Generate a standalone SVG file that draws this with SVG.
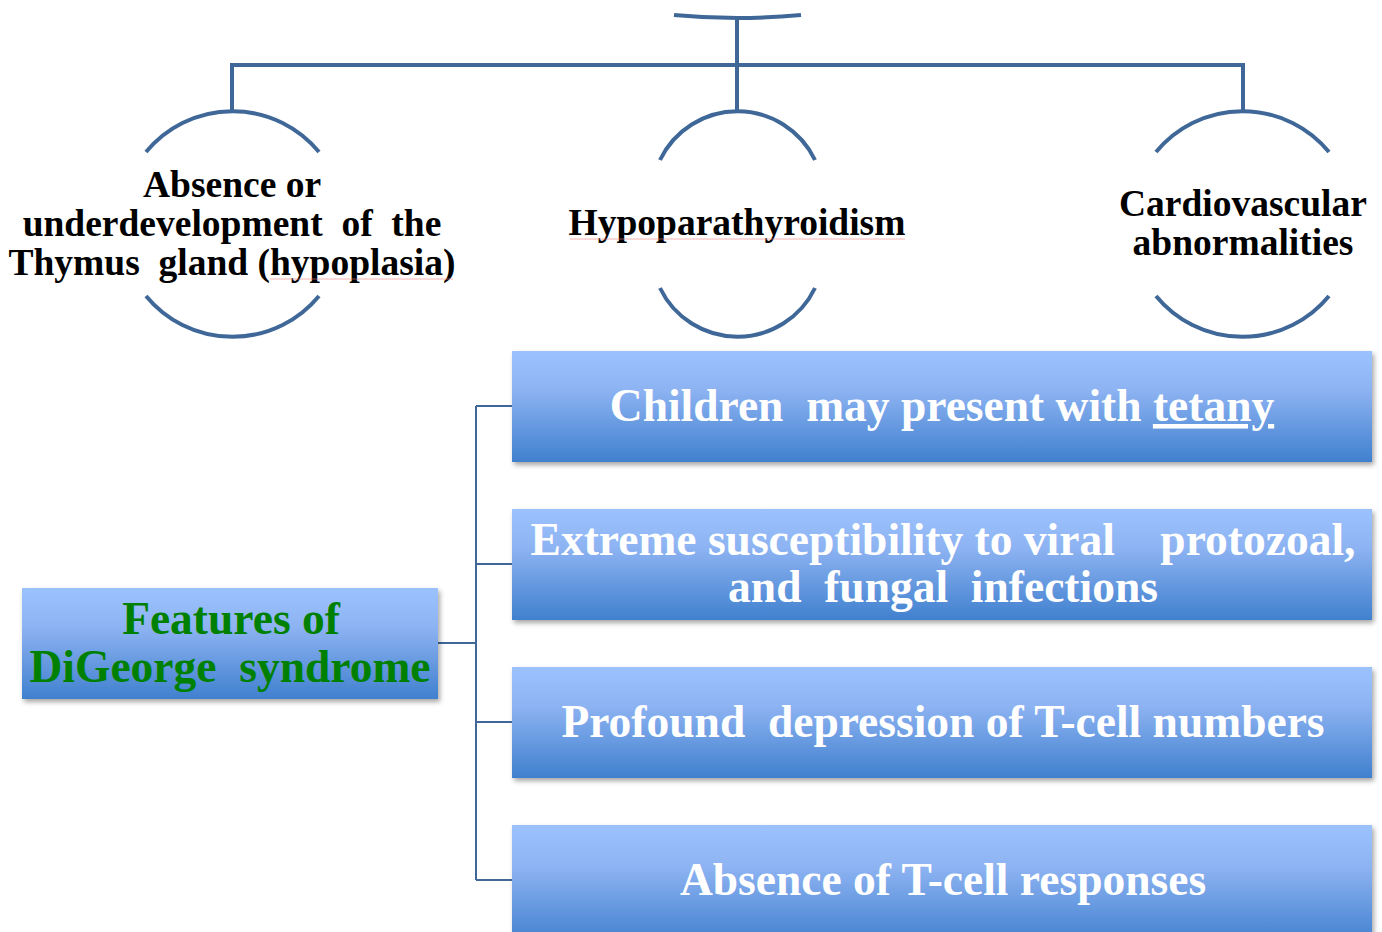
<svg xmlns="http://www.w3.org/2000/svg" width="1382" height="932" viewBox="0 0 1382 932">
<defs>
<linearGradient id="g" x1="0" y1="0" x2="0" y2="1">
<stop offset="0" stop-color="#9CC2FE"/>
<stop offset="0.35" stop-color="#8DB3F2"/>
<stop offset="1" stop-color="#4080CE"/>
</linearGradient>
<filter id="sh" x="-5%" y="-10%" width="115%" height="130%">
<feDropShadow dx="2" dy="3" stdDeviation="2.5" flood-color="#000" flood-opacity="0.35"/>
</filter>
</defs>
<style>
.arc{fill:none;stroke:#3F6899;stroke-width:4}
.con{fill:none;stroke:#3F6899;stroke-width:2}
.bx{fill:url(#g);filter:url(#sh)}
.t{font-family:"Liberation Serif","Times New Roman",serif;font-weight:bold;text-anchor:middle}
.blk{fill:#000;font-size:37.5px}
.wh{fill:#fff;font-size:45.5px}
.gr{fill:#008000;font-size:45.5px}
</style>
<rect width="1382" height="932" fill="#fff"/>
<g id="connectors">
<path class="arc" d="M674,15 Q737,21 801,15"/>
<path class="arc" d="M737,17 V110 M232,65 H1243 M232,63 V110 M1243,63 V110"/>
<path class="con" d="M438,643 H476 M476,406 V880 M476,406 H512 M476,564 H512 M476,722 H512 M476,880 H512"/>
</g>
<g id="n-thymus">
<path class="arc" d="M146,152 A112,112 0 0 1 319,152"/>
<path class="arc" d="M146,296 A112,112 0 0 0 319,296"/>
<text class="t blk" x="232" y="197">Absence or</text>
<text class="t blk" x="232" y="236" xml:space="preserve">underdevelopment  of  the</text>
<text class="t blk" x="232" y="275" xml:space="preserve">Thymus  gland (hypoplasia)</text>
<path d="M270,279 H453" stroke="#F08080" stroke-width="1" opacity="0.6"/>
</g>
<g id="n-hypo">
<path class="arc" d="M660,160 A86,86 0 0 1 815,160"/>
<path class="arc" d="M660,288 A86,86 0 0 0 815,288"/>
<text class="t blk" x="737" y="235">Hypoparathyroidism</text>
<path d="M570,239 H905" stroke="#F08080" stroke-width="1" opacity="0.6"/>
</g>
<g id="n-cardio">
<path class="arc" d="M1156,152 A112,112 0 0 1 1329,152"/>
<path class="arc" d="M1156,296 A112,112 0 0 0 1329,296"/>
<text class="t blk" x="1243" y="216">Cardiovascular</text>
<text class="t blk" x="1243" y="255">abnormalities</text>
</g>
<g id="n-features">
<rect class="bx" x="22" y="588" width="416" height="111"/>
<text class="t gr" x="231" y="634">Features of</text>
<text class="t gr" x="230" y="682" xml:space="preserve">DiGeorge  syndrome</text>
</g>
<g id="n-tetany">
<rect class="bx" x="512" y="351" width="860" height="111"/>
<text class="t wh" x="942" y="421" xml:space="preserve">Children  may present with <tspan text-decoration="underline">tetany</tspan></text>
</g>
<g id="n-infections">
<rect class="bx" x="512" y="509" width="860" height="111"/>
<text class="t wh" x="943" y="555" xml:space="preserve">Extreme susceptibility to viral    protozoal,</text>
<text class="t wh" x="943" y="602" xml:space="preserve">and  fungal  infections</text>
</g>
<g id="n-tcell">
<rect class="bx" x="512" y="667" width="860" height="111"/>
<text class="t wh" x="943" y="737" xml:space="preserve">Profound  depression of T-cell numbers</text>
</g>
<g id="n-responses">
<rect class="bx" x="512" y="825" width="860" height="120"/>
<text class="t wh" x="943" y="895">Absence of T-cell responses</text>
</g>
</svg>
